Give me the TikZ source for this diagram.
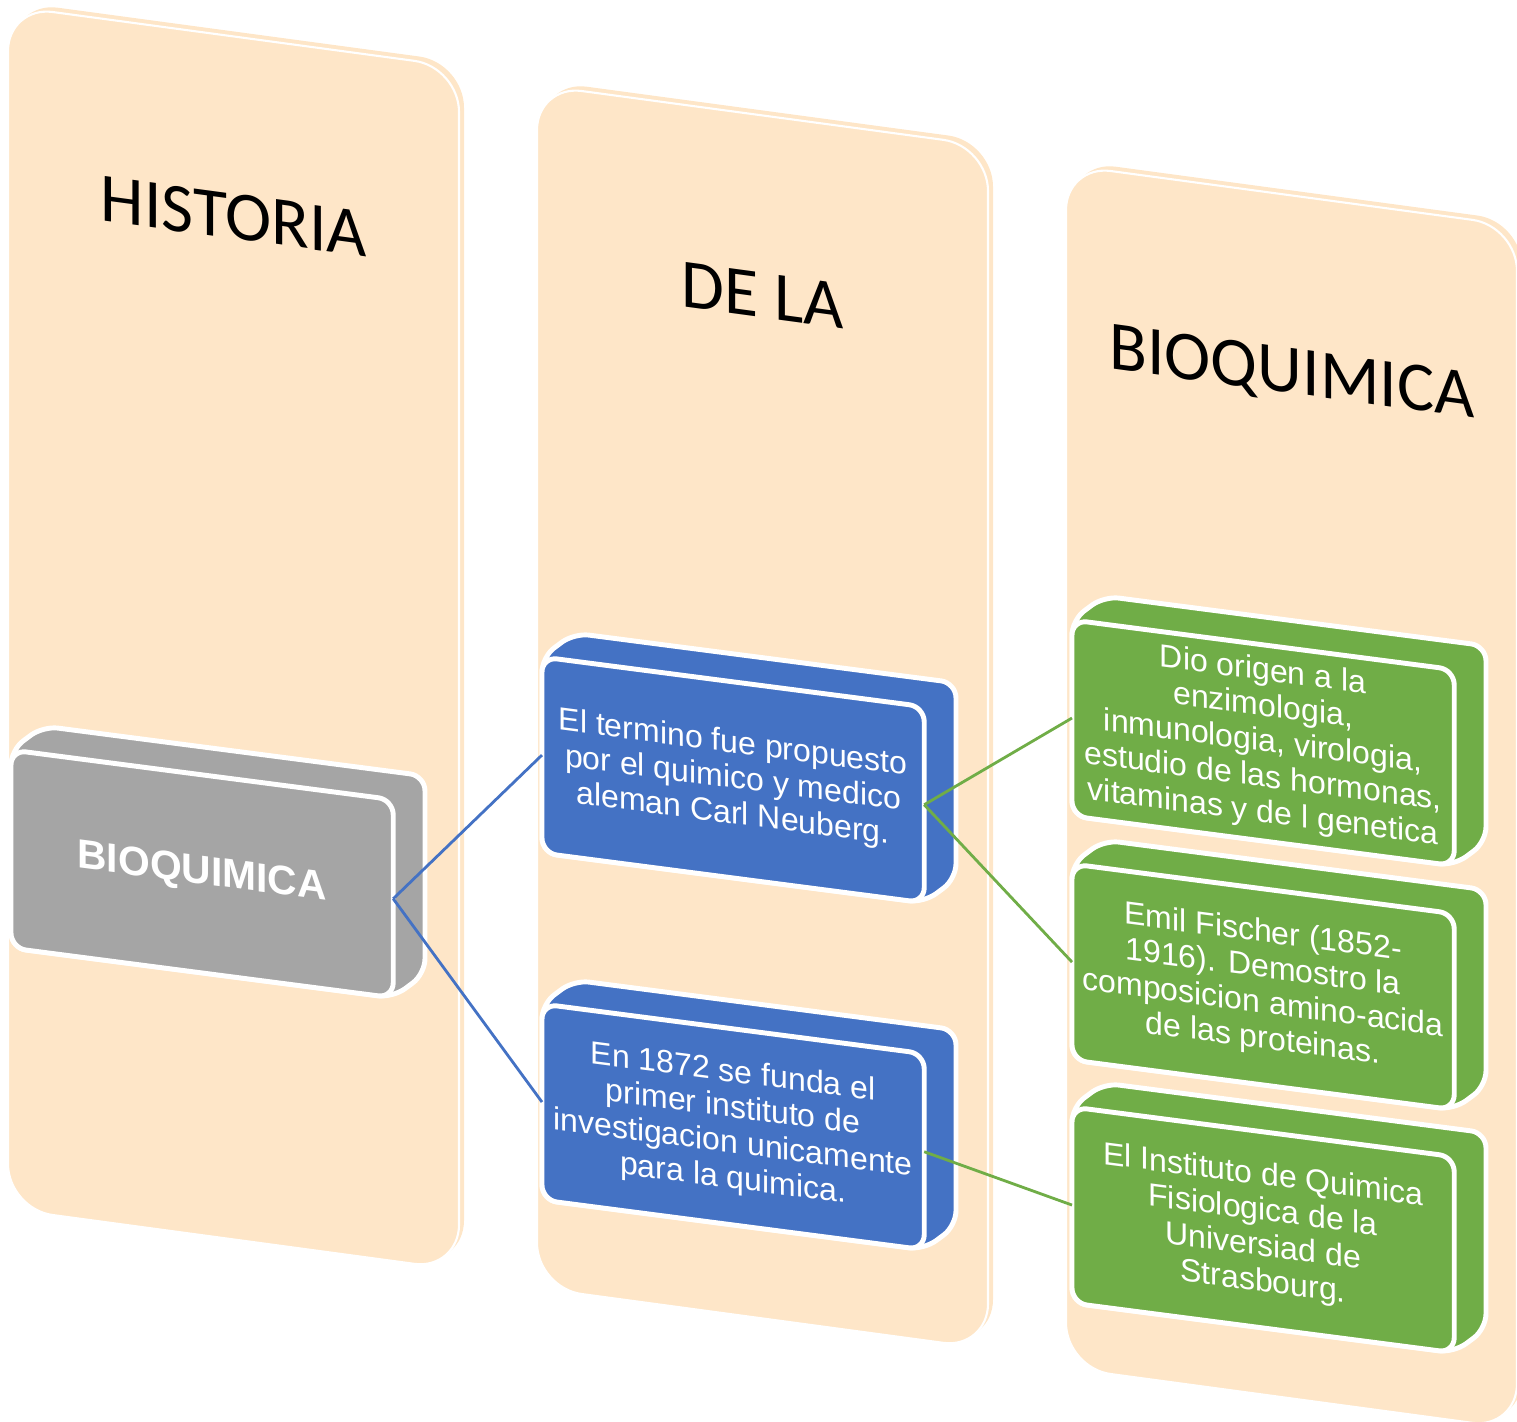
\documentclass[tikz,border=0pt]{standalone}
\usepackage{fontspec}
\setmainfont{Liberation Sans}
\newfontfamily\titlefont{Carlito}
\definecolor{peach}{HTML}{FEE6C8}
\definecolor{boxgray}{HTML}{A5A5A5}
\definecolor{boxblue}{HTML}{4472C4}
\definecolor{boxgreen}{HTML}{70AD47}
\begin{document}
\begin{tikzpicture}[x=0.01cm, y=-0.01cm,
  column/.style={fill=peach, draw=white, line width=0.6pt, rounded corners=0.45cm},
  coltitle/.style={font=\titlefont\fontsize{19.8}{23}\selectfont, transform shape},
  slab/.style={draw=white, line width=1.4pt, rounded corners=0.15cm},
  face/.style={slab, anchor=north west, minimum width=3.82cm, minimum height=1.96cm,
    outer sep=0pt, inner sep=0pt, transform shape, text=white, align=center,
    font=\fontsize{9.1}{10.1}\selectfont},
  link/.style={line width=0.8pt}]
\useasboundingbox (0,0) rectangle (1517,1422);
% Columns
\foreach \cx/\cy/\ttl in {8/6/HISTORIA, 537/85/DE LA, 1066/165/BIOQUIMICA} {
  \begin{scope}[shift={(\cx,\cy)}, yslant=-0.135]
    \fill[peach, rounded corners=0.45cm] (5,-5) rectangle (456,1198);
    \draw[column] (0,0) rectangle (451,1203);
    \node[coltitle] at (226,180) {\ttl};
  \end{scope}
}
% Root box
\begin{scope}[shift={(11,750)}, yslant=-0.13]
  \draw[slab, fill=boxgray] (0,0) -- (32,-28) -- (414,-28) -- (414,170) -- (382,198) -- (0,198) -- cycle;
  \node[face, fill=boxgray, minimum height=1.98cm, font=\bfseries\fontsize{11.6}{13}\selectfont] (root) at (0,0) {BIOQUIMICA};
\end{scope}
% Middle boxes
\begin{scope}[shift={(542,657)}, yslant=-0.13]
  \draw[slab, fill=boxblue] (0,0) -- (32,-28) -- (414,-28) -- (414,168) -- (382,196) -- (0,196) -- cycle;
  \node[face, fill=boxblue] (term) at (0,0) {El termino fue propuesto\\por el quimico y medico\\aleman Carl Neuberg.};
\end{scope}
\begin{scope}[shift={(542,1004)}, yslant=-0.13]
  \draw[slab, fill=boxblue] (0,0) -- (32,-28) -- (414,-28) -- (414,168) -- (382,196) -- (0,196) -- cycle;
  \node[face, fill=boxblue] (inst) at (0,0) {En 1872 se funda el\\primer instituto de\\investigacion unicamente\\para la quimica.};
\end{scope}
% Right boxes
\begin{scope}[shift={(1072,620)}, yslant=-0.13]
  \draw[slab, fill=boxgreen] (0,0) -- (32,-28) -- (414,-28) -- (414,168) -- (382,196) -- (0,196) -- cycle;
  \node[face, fill=boxgreen] (enzy) at (0,0) {Dio origen a la\\enzimologia,\\inmunologia, virologia,\\estudio de las hormonas,\\vitaminas y de l genetica};
\end{scope}
\begin{scope}[shift={(1072,864)}, yslant=-0.13]
  \draw[slab, fill=boxgreen] (0,0) -- (32,-28) -- (414,-28) -- (414,168) -- (382,196) -- (0,196) -- cycle;
  \node[face, fill=boxgreen] (fischer) at (0,0) {Emil Fischer (1852-\\1916). Demostro la\\composicion amino-acida\\de las proteinas.};
\end{scope}
\begin{scope}[shift={(1072,1107)}, yslant=-0.13]
  \draw[slab, fill=boxgreen] (0,0) -- (32,-28) -- (414,-28) -- (414,168) -- (382,196) -- (0,196) -- cycle;
  \node[face, fill=boxgreen] (stras) at (0,0) {El Instituto de Quimica\\Fisiologica de la\\Universiad de\\Strasbourg.};
\end{scope}
% Links
\draw[boxblue, link] (root.east) -- (term.west);
\draw[boxblue, link] (root.east) -- (inst.west);
\draw[boxgreen, link] (term.east) -- (enzy.west);
\draw[boxgreen, link] (term.east) -- (fischer.west);
\draw[boxgreen, link] (inst.east) -- (stras.west);
\end{tikzpicture}
\end{document}
